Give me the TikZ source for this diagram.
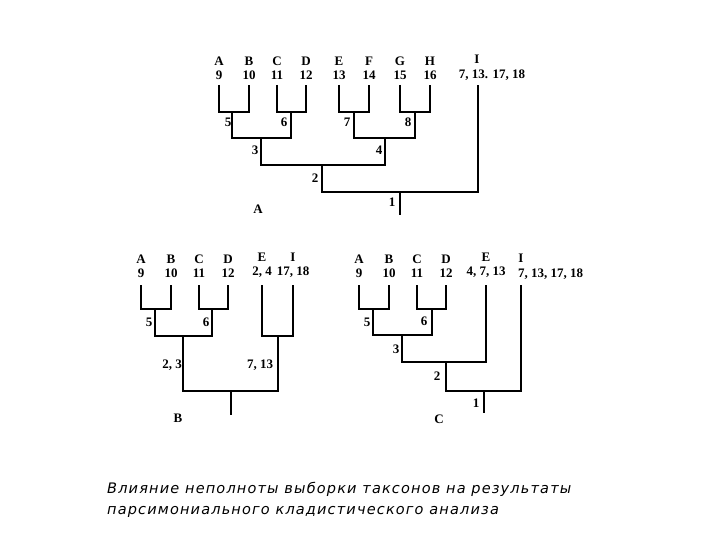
\documentclass[tikz,border=0pt]{standalone}
\usepackage{fontspec}
\setmainfont{Liberation Serif}
\newfontfamily\capfont[LetterSpace=8]{DejaVu Sans}
\begin{document}
\begin{tikzpicture}[x=1pt,y=-1pt,
  br/.style={line width=2pt},
  lab/.style={font=\bfseries\fontsize{13}{13}\selectfont, inner sep=0pt},
  leaf/.style={font=\bfseries\fontsize{13}{14.5}\selectfont, inner sep=0pt, align=center, anchor=south}]
\useasboundingbox (0,0) rectangle (720,540);
\fill[white] (0,0) rectangle (720,540);
% ---------- Tree A ----------
\foreach \n/\x/\t in {aA/219/{A\\9},aB/249/{B\\10},aC/277/{C\\11},aD/306/{D\\12},aE/339/{E\\13},aF/369/{F\\14},aG/400/{G\\15},aH/430/{H\\16}}
  \node[leaf] (\n) at (\x,80) {\t};
\node[leaf, anchor=base] (aIl) at (477,64) {I};
\node[leaf, anchor=base] (aIn) at (492,79) {7, 13. 17, 18};
\coordinate (aIt) at (478,85);
\draw[br] (219,85) |- (249,112) -- (249,85);
\draw[br] (277,85) |- (306,112) -- (306,85);
\draw[br] (339,85) |- (369,112) -- (369,85);
\draw[br] (400,85) |- (430,112) -- (430,85);
\draw[br] (232,112) |- (291,138) -- (291,112);
\draw[br] (354,112) |- (415,138) -- (415,112);
\draw[br] (261,138) |- (385,165) -- (385,138);
\draw[br] (322,165) |- (aIt |- 0,192) -- (aIt);
\draw[br] (400,192) -- (400,215);
\node[lab] (a5) at (228,122) {5};
\node[lab] (a6) at (284,122) {6};
\node[lab] (a7) at (347,122) {7};
\node[lab] (a8) at (408,122) {8};
\node[lab] (a3) at (255,150) {3};
\node[lab] (a4) at (379,150) {4};
\node[lab] (a2) at (315,178) {2};
\node[lab] (a1) at (392,202) {1};
\node[lab] (aa) at (258,209) {A};
% ---------- Tree B ----------
\foreach \n/\x/\t in {bA/141/{A\\9},bB/171/{B\\10},bC/199/{C\\11},bD/228/{D\\12},bE/262/{E\\2, 4},bI/293/{I\\17, 18}}
  \node[leaf] (\n) at (\x,278) {\t};
\draw[br] (141,285) |- (171,309) -- (171,285);
\draw[br] (199,285) |- (228,309) -- (228,285);
\draw[br] (262,285) |- (293,336) -- (293,285);
\draw[br] (155,309) |- (212,336) -- (212,309);
\draw[br] (183,336) |- (278,391) -- (278,336);
\draw[br] (231,391) -- (231,415);
\node[lab] (b5) at (149,322) {5};
\node[lab] (b6) at (206,322) {6};
\node[lab] (b23) at (172,365) {2, 3};
\node[lab] (b713) at (260,365) {7, 13};
\node[lab] (bb) at (178,418) {B};
% ---------- Tree C ----------
\foreach \n/\x/\t in {cA/359/{A\\9},cB/389/{B\\10},cC/417/{C\\11},cD/446/{D\\12},cE/486/{E\\4, 7, 13}}
  \node[leaf] (\n) at (\x,278) {\t};
\node[leaf, anchor=base] (cIl) at (521,262) {I};
\node[leaf, anchor=base west] (cIn) at (518,277) {7, 13, 17, 18};
\draw[br] (359,285) |- (389,309) -- (389,285);
\draw[br] (417,285) |- (446,309) -- (446,285);
\draw[br] (373,309) |- (432,335) -- (432,309);
\draw[br] (402,335) |- (486,362) -- (486,285);
\draw[br] (446,362) |- (521,391) -- (521,285);
\draw[br] (484,391) -- (484,413);
\node[lab] (c5) at (367,322) {5};
\node[lab] (c6) at (424,321) {6};
\node[lab] (c3) at (396,349) {3};
\node[lab] (c2) at (437,376) {2};
\node[lab] (c1) at (476,403) {1};
\node[lab] (cc) at (439,419) {C};
% ---------- Caption ----------
\node[anchor=north west, align=left, inner sep=0pt, font=\capfont\itshape\fontsize{14.5}{21}\selectfont] (cap) at (107,482)
 {Влияние неполноты выборки таксонов на результаты\\парсимониального кладистического анализа};
\end{tikzpicture}
\end{document}
